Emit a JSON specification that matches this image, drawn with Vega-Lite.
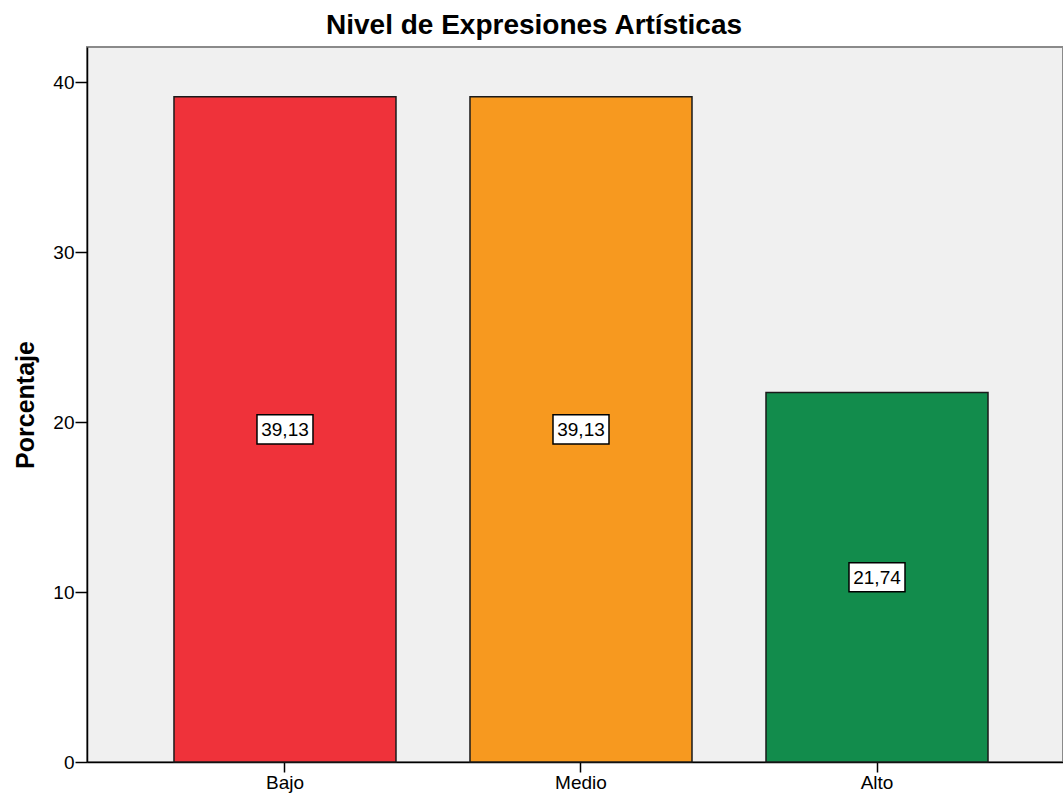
{
  "$schema": "https://vega.github.io/schema/vega-lite/v6.json",
  "width": 976,
  "height": 715,
  "autosize": {"type": "none"},
  "padding": {"left": 87, "top": 47, "right": 0, "bottom": 33},
  "background": "white",
  "title": {
    "text": "Nivel de Expresiones Artísticas",
    "font": "Liberation Sans",
    "fontSize": 28,
    "fontWeight": "bold",
    "color": "#000000",
    "anchor": "middle",
    "dx": -41,
    "offset": 7
  },
  "config": {
    "view": {"fill": "#F0F0F0", "stroke": "#8a8a8a", "strokeWidth": 2},
    "axis": {"labelFont": "Liberation Sans", "titleFont": "Liberation Sans", "labelColor": "#000", "titleColor": "#000", "domainColor": "#000", "tickColor": "#000", "grid": false}
  },
  "data": {
    "values": [
      {"nivel": "Bajo", "porcentaje": 39.13, "etiqueta": "39,13"},
      {"nivel": "Medio", "porcentaje": 39.13, "etiqueta": "39,13"},
      {"nivel": "Alto", "porcentaje": 21.74, "etiqueta": "21,74"}
    ]
  },
  "encoding": {
    "x": {
      "field": "nivel",
      "type": "nominal",
      "sort": ["Bajo", "Medio", "Alto"],
      "scale": {"paddingInner": 0.25, "paddingOuter": 0.2736, "align": 0.537},
      "axis": {"title": null, "labelAngle": 0, "labelFontSize": 19, "tickSize": 10, "labelPadding": 1, "domainWidth": 1.5, "tickWidth": 1.5}
    }
  },
  "layer": [
    {
      "mark": {"type": "bar", "stroke": "#1a1a1a", "strokeWidth": 1.5},
      "encoding": {
        "y": {
          "field": "porcentaje",
          "type": "quantitative",
          "scale": {"domain": [0, 42.06], "nice": false},
          "axis": {"title": "Porcentaje", "titleFontSize": 25, "titleFontWeight": "bold", "titlePadding": 14, "labelFontSize": 19, "values": [0, 10, 20, 30, 40], "tickSize": 12, "labelPadding": 1, "domainWidth": 1.5, "tickWidth": 1.5}
        },
        "color": {
          "field": "nivel",
          "type": "nominal",
          "scale": {"domain": ["Bajo", "Medio", "Alto"], "range": ["#EF323A", "#F7991F", "#128C4C"]},
          "legend": null
        }
      }
    },
    {
      "mark": {"type": "point", "shape": "M-1,-0.52H1V0.52H-1Z", "size": 3136, "filled": true, "fill": "white", "stroke": "#000", "strokeWidth": 1.5, "opacity": 1},
      "encoding": {
        "y": {"field": "mid", "type": "quantitative"}
      },
      "transform": [{"calculate": "datum.porcentaje / 2", "as": "mid"}]
    },
    {
      "mark": {"type": "text", "font": "Liberation Sans", "fontSize": 19, "color": "#000", "baseline": "middle", "align": "center", "dy": 1},
      "encoding": {
        "y": {"field": "mid", "type": "quantitative"},
        "text": {"field": "etiqueta"}
      },
      "transform": [{"calculate": "datum.porcentaje / 2", "as": "mid"}]
    }
  ]
}
